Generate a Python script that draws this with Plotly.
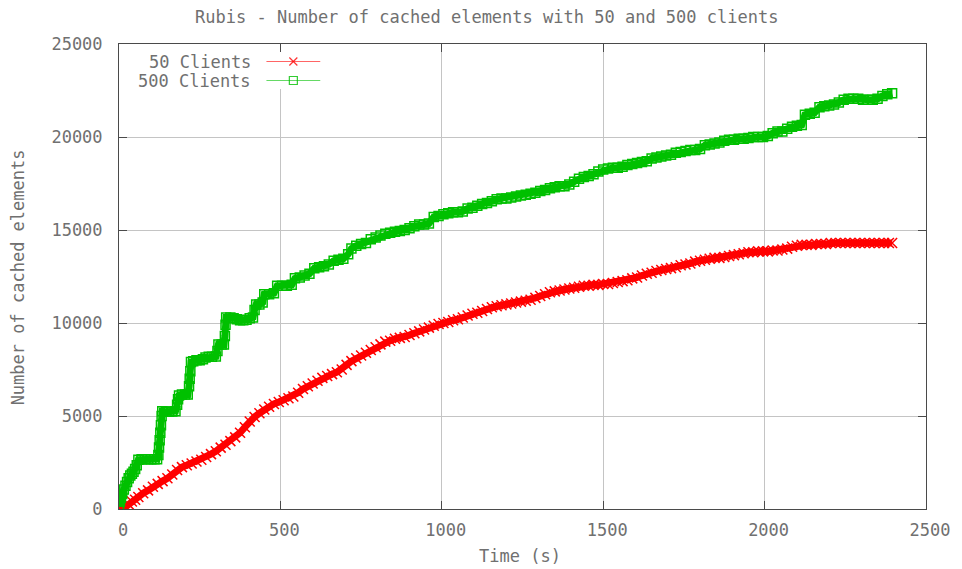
import plotly.graph_objects as go

# ---------------- data ----------------
t_50 = [0, 10, 20, 30, 40, 50, 60, 75, 90, 105, 120, 135, 150, 165, 180, 195, 210, 225, 240, 255,
        270, 285, 300, 315, 330, 345, 360, 375, 390, 405, 420, 435, 450, 465, 480, 495, 510, 525,
        540, 555, 570, 585, 600, 615, 630, 645, 660, 675, 690, 705, 720, 735, 750, 765, 780, 795,
        810, 825, 840, 855, 870, 885, 900, 915, 930, 945, 960, 975, 990, 1005, 1020, 1035, 1050,
        1065, 1080, 1095, 1110, 1125, 1140, 1155, 1170, 1185, 1200, 1215, 1230, 1245, 1260, 1275,
        1290, 1305, 1320, 1335, 1350, 1365, 1380, 1395, 1410, 1425, 1440, 1455, 1470, 1485, 1500,
        1515, 1530, 1545, 1560, 1575, 1590, 1605, 1620, 1635, 1650, 1665, 1680, 1695, 1710, 1725,
        1740, 1755, 1770, 1785, 1800, 1815, 1830, 1845, 1860, 1875, 1890, 1905, 1920, 1935, 1950,
        1965, 1980, 1995, 2010, 2025, 2040, 2055, 2070, 2085, 2100, 2115, 2130, 2145, 2160, 2175,
        2190, 2205, 2220, 2235, 2250, 2265, 2280, 2295, 2310, 2325, 2340, 2355, 2370, 2385, 2395]
v_50 = [0, 30, 100, 250, 400, 500, 650, 850, 1000, 1200, 1350, 1500, 1650, 1850, 2100, 2250, 2350,
        2450, 2550, 2650, 2800, 2950, 3100, 3300, 3450, 3650, 3850, 4100, 4400, 4700, 4950, 5150,
        5350, 5500, 5650, 5750, 5850, 5950, 6050, 6250, 6450, 6600, 6750, 6900, 7050, 7150, 7250,
        7350, 7500, 7750, 7950, 8100, 8250, 8400, 8550, 8700, 8850, 9000, 9050, 9150, 9200, 9250,
        9350, 9450, 9550, 9650, 9750, 9850, 9950, 10000, 10050, 10150, 10200, 10300, 10400, 10500,
        10550, 10650, 10750, 10850, 10900, 10950, 11000, 11050, 11100, 11150, 11200, 11250, 11350,
        11450, 11550, 11650, 11700, 11750, 11800, 11850, 11900, 11950, 12000, 12000, 12050, 12050,
        12100, 12100, 12150, 12200, 12250, 12300, 12400, 12450, 12550, 12650, 12700, 12800, 12850,
        12900, 12950, 13000, 13100, 13150, 13200, 13300, 13350, 13400, 13450, 13500, 13500, 13550,
        13600, 13650, 13700, 13750, 13800, 13800, 13850, 13850, 13850, 13900, 13900, 13950, 14000,
        14100, 14150, 14200, 14200, 14200, 14250, 14250, 14250, 14300, 14300, 14300, 14300, 14300,
        14300, 14300, 14300, 14300, 14300, 14300, 14300, 14300, 14300]

t_500 = [0, 3, 6, 10, 15, 20, 25, 30, 35, 40, 45, 50, 55, 60, 70, 80, 90, 100, 110, 118, 122, 124,
         126, 128, 130, 132, 134, 145, 155, 165, 175, 180, 183, 186, 195, 205, 213, 217, 219, 221,
         223, 230, 240, 250, 260, 268, 278, 288, 300, 305, 308, 318, 325, 328, 330, 332, 345, 355,
         365, 375, 385, 395, 405, 415, 420, 425, 435, 445, 450, 465, 480, 490, 505, 520, 535, 545,
         560, 575, 590, 605, 620, 635, 650, 665, 680, 695, 710, 720, 735, 750, 765, 780, 795, 810,
         825, 840, 855, 870, 885, 900, 915, 930, 945, 960, 975, 990, 1005, 1020, 1035, 1050, 1065,
         1080, 1095, 1110, 1125, 1140, 1155, 1170, 1185, 1200, 1215, 1230, 1245, 1260, 1275, 1290,
         1305, 1320, 1335, 1350, 1365, 1380, 1395, 1410, 1425, 1440, 1455, 1470, 1485, 1500, 1515,
         1530, 1545, 1560, 1575, 1590, 1605, 1620, 1635, 1650, 1665, 1680, 1695, 1710, 1725, 1740,
         1755, 1770, 1785, 1800, 1815, 1830, 1845, 1860, 1875, 1890, 1905, 1920, 1935, 1950, 1965,
         1980, 1995, 2010, 2025, 2040, 2055, 2070, 2085, 2100, 2115, 2125, 2140, 2155, 2170, 2185,
         2200, 2215, 2230, 2245, 2260, 2275, 2290, 2305, 2320, 2335, 2350, 2365, 2380, 2395]
v_500 = [150, 400, 600, 800, 1050, 1250, 1450, 1650, 1800, 1900, 2000, 2150, 2350, 2650, 2670, 2670,
         2670, 2670, 2670, 2680, 2900, 3300, 3700, 4100, 4500, 5000, 5250, 5230, 5230, 5240, 5260,
         5600, 5900, 6100, 6150, 6150, 6150, 6600, 7000, 7400, 7900, 7950, 8000, 8000, 8050, 8150,
         8180, 8180, 8200, 8500, 8850, 8850, 8850, 9300, 9900, 10300, 10300, 10250, 10200, 10150,
         10150, 10180, 10250, 10300, 10700, 11000, 11000, 11100, 11550, 11550, 11600, 12000, 12000,
         12000, 12050, 12400, 12450, 12550, 12650, 12950, 13000, 13050, 13150, 13350, 13400, 13450,
         13700, 14000, 14150, 14250, 14300, 14500, 14600, 14700, 14800, 14850, 14900, 14950, 15000,
         15100, 15200, 15300, 15300, 15350, 15700, 15750, 15850, 15900, 15950, 15950, 16000, 16150,
         16200, 16300, 16400, 16450, 16550, 16650, 16700, 16700, 16750, 16800, 16850, 16900, 16950,
         17000, 17100, 17150, 17250, 17300, 17350, 17350, 17450, 17600, 17750, 17850, 17900, 18000,
         18150, 18250, 18300, 18350, 18350, 18400, 18500, 18550, 18600, 18650, 18700, 18850, 18900,
         18950, 19000, 19050, 19150, 19200, 19250, 19300, 19300, 19350, 19550, 19600, 19650, 19700,
         19800, 19850, 19850, 19900, 19900, 19950, 20000, 20000, 20000, 20050, 20200, 20300, 20300,
         20450, 20550, 20600, 20650, 21200, 21250, 21300, 21600, 21650, 21700, 21750, 21850, 22000,
         22050, 22050, 22050, 22000, 22000, 22000, 22050, 22200, 22300, 22350]

series_names = ["50 Clients", "500 Clients"]
x_ticks = [0, 500, 1000, 1500, 2000, 2500]
y_ticks = [0, 5000, 10000, 15000, 20000, 25000]

title_text = "Rubis - Number of cached elements with 50 and 500 clients"
x_title = "Time (s)"
y_title = "Number of cached elements"

# ---------------- styling ----------------
W, H = 962, 569
ML, MR, MT, MB = 119, 33, 44, 60
PX0, PX1 = ML, W - MR          # plot area in pixels
PY0, PY1 = MT, H - MB
XR = [0, 2500]
YR = [0, 25000]
FONT = "DejaVu Sans Mono"
TXT = "#707070"
AX = "#4a4a4a"
GRID = "#c4c4c4"
RED = "#ff0000"
GREEN = "#00c000"
FS = 17


def pxx(p):
    return (p - PX0) / (PX1 - PX0)


def pxy(p):
    return (PY1 - p) / (PY1 - PY0)


def dx(p):
    return XR[0] + pxx(p) * (XR[1] - XR[0])


def dy(p):
    return YR[0] + pxy(p) * (YR[1] - YR[0])


fig = go.Figure()

fig.add_trace(go.Scatter(
    x=t_50, y=v_50, mode="lines+markers", name=series_names[0],
    line=dict(color=RED, width=7),
    marker=dict(symbol="x-thin", size=10, color=RED, line=dict(color=RED, width=1.5)),
    showlegend=False))

fig.add_trace(go.Scatter(
    x=t_500, y=v_500, mode="lines+markers", name=series_names[1],
    line=dict(color=GREEN, width=7),
    marker=dict(symbol="square-open", size=9, color=GREEN, line=dict(color=GREEN, width=1.5)),
    showlegend=False))

# ----- gnuplot-style key (text right-aligned, sample to the right) on a pixel overlay axis -----
key_rows = [61.5, 80.5]
key_colors = [RED, GREEN]
key_symbols = ["x-thin", "square-open"]
for name, yy, col, sym in zip(series_names, key_rows, key_colors, key_symbols):
    fig.add_trace(go.Scatter(
        x=[267, 321], y=[yy, yy], xaxis="x2", yaxis="y2", mode="lines",
        line=dict(color=col, width=1), opacity=0.6, showlegend=False, hoverinfo="skip"))
    fig.add_trace(go.Scatter(
        x=[294], y=[yy], xaxis="x2", yaxis="y2", mode="markers",
        marker=dict(symbol=sym, size=8, color=col, line=dict(color=col, width=1.2)),
        opacity=0.8, showlegend=False, hoverinfo="skip"))
    fig.add_annotation(x=253, y=yy, xref="x2", yref="y2", text=name, showarrow=False,
                       xanchor="right", yanchor="middle",
                       font=dict(family=FONT, size=FS, color=TXT))

fig.add_shape(type="rect", xref="x", yref="y", x0=dx(124), x1=dx(326), y0=dy(89), y1=dy(52),
              fillcolor="white", line=dict(width=0), layer="between")

# axis titles
fig.add_annotation(x=pxx(521), y=pxy(556), xref="paper", yref="paper", text=x_title,
                   showarrow=False, xanchor="center", yanchor="middle",
                   font=dict(family=FONT, size=FS, color=TXT))
fig.add_annotation(x=pxx(18), y=pxy(277), xref="paper", yref="paper", text=y_title,
                   showarrow=False, xanchor="center", yanchor="middle", textangle=-90,
                   font=dict(family=FONT, size=FS, color=TXT))

axis_common = dict(
    showline=True, linecolor=AX, linewidth=1, mirror="ticks",
    ticks="inside", ticklen=8, tickcolor=AX, tickwidth=1,
    showgrid=True, gridcolor=GRID, gridwidth=1, zeroline=False,
    tickfont=dict(family=FONT, size=FS, color=TXT),
)

fig.update_layout(
    width=W, height=H,
    margin=dict(l=ML, r=MR, t=MT, b=MB, pad=0),
    paper_bgcolor="white", plot_bgcolor="white",
    title=dict(text=title_text, x=0.506, xref="container", xanchor="center",
               y=1 - 17 / H, yref="container", yanchor="middle",
               font=dict(family=FONT, size=FS, color=TXT)),
    xaxis=dict(range=XR, tickvals=x_ticks, ticktext=[str(v) for v in x_ticks],
               ticklabelstandoff=6, ticklabelshift=4, **axis_common),
    yaxis=dict(range=YR, tickvals=y_ticks, ticktext=[str(v) for v in y_ticks],
               ticklabelstandoff=12, **axis_common),
    xaxis2=dict(overlaying="x", range=[PX0, PX1], visible=False, fixedrange=True),
    yaxis2=dict(overlaying="y", range=[PY1, PY0], visible=False, fixedrange=True),
    showlegend=False,
)

fig.write_html("out.html")
